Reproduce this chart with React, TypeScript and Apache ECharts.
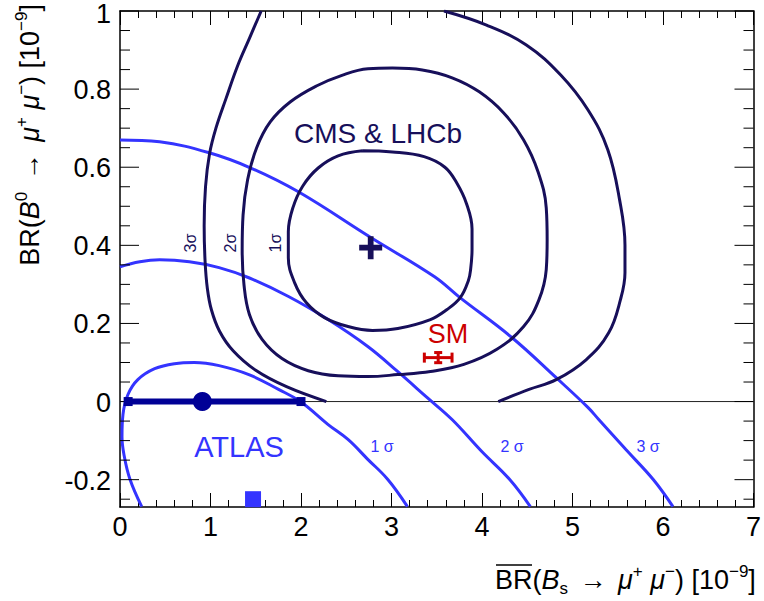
import React, { useEffect, useRef } from 'react';
import * as echarts from 'echarts';

// ---------- data ----------
const xTickValues = [0, 1, 2, 3, 4, 5, 6, 7];
const yMajorTicks = [-0.2, 0, 0.2, 0.4, 0.6, 0.8, 1];
const yTickLabels = ['-0.2', '0', '0.2', '0.4', '0.6', '0.8', '1'];
const yMinorTicks = [-0.25, -0.15, -0.1, -0.05, 0.05, 0.1, 0.15, 0.25, 0.3, 0.35, 0.45, 0.5, 0.55, 0.65, 0.7, 0.75, 0.85, 0.9, 0.95];

// CMS & LHCb combined contours [BR(Bs), BR(B0)]
const cms1Sigma = [
  [2.68, 0.642], [3.01, 0.639], [3.36, 0.627], [3.59, 0.6], [3.72, 0.56], [3.83, 0.506], [3.89, 0.442],
  [3.89, 0.389], [3.875, 0.34], [3.85, 0.31], [3.76, 0.266], [3.61, 0.235], [3.43, 0.21], [3.07, 0.187], [2.79, 0.182],
  [2.52, 0.192], [2.26, 0.215], [2.06, 0.253], [1.93, 0.304], [1.86, 0.368], [1.86, 0.435], [1.91, 0.496],
  [2.02, 0.552], [2.19, 0.598], [2.41, 0.629], [2.68, 0.642],
];
const cms2Sigma = [
  [3.01, 0.854], [3.34, 0.849], [3.67, 0.829], [3.97, 0.793], [4.24, 0.739], [4.46, 0.67], [4.62, 0.588],
  [4.71, 0.496], [4.72, 0.414], [4.71, 0.338], [4.63, 0.261], [4.46, 0.192], [4.16, 0.133], [3.8, 0.095],
  [3.43, 0.077], [3.07, 0.069], [2.74, 0.064], [2.41, 0.066], [2.08, 0.079], [1.79, 0.11], [1.57, 0.159],
  [1.43, 0.223], [1.37, 0.299], [1.35, 0.389], [1.36, 0.478], [1.41, 0.568], [1.51, 0.65], [1.66, 0.716],
  [1.88, 0.767], [2.17, 0.808], [2.46, 0.836], [2.74, 0.852], [3.01, 0.854],
];
const cms3SigmaLeft = [
  [1.56, 1.0], [1.43, 0.93], [1.3, 0.86], [1.17, 0.775], [1.06, 0.7], [0.99, 0.635], [0.945, 0.55],
  [0.93, 0.45], [0.94, 0.36], [0.965, 0.29], [1.01, 0.235], [1.1, 0.18], [1.25, 0.13], [1.5, 0.08], [1.84, 0.038], [2.28, 0],
];
const cms3SigmaRight = [
  [3.58, 1.0], [4.05, 0.964], [4.49, 0.913], [4.87, 0.836], [5.17, 0.747], [5.39, 0.645], [5.52, 0.517],
  [5.58, 0.4], [5.58, 0.33], [5.53, 0.261], [5.4, 0.176], [5.15, 0.107], [4.82, 0.056], [4.52, 0.031], [4.18, 0],
];

// ATLAS contours
const atlas1Sigma = [
  [0.24, -0.269], [0.11, -0.199], [0.044, -0.136], [0.022, -0.09], [0.033, -0.033], [0.088, 0.018],
  [0.197, 0.056], [0.383, 0.084], [0.602, 0.097], [0.821, 0.1], [1.095, 0.092], [1.424, 0.069], [1.752, 0.031],
  [1.993, 0], [2.3, -0.059], [2.519, -0.097], [2.738, -0.148], [2.957, -0.199], [3.176, -0.269],
];
const atlas2Sigma = [
  [0, 0.345], [0.219, 0.358], [0.438, 0.363], [0.767, 0.358], [1.095, 0.343], [1.424, 0.317], [1.862, 0.269],
  [2.3, 0.21], [2.738, 0.141], [3.067, 0.077], [3.395, 0.01], [3.669, -0.046], [3.998, -0.128], [4.304, -0.199], [4.534, -0.269],
];
const atlas3Sigma = [
  [0, 0.67], [0.438, 0.665], [0.986, 0.637], [1.446, 0.598], [1.971, 0.537], [2.771, 0.42], [3.472, 0.32],
  [3.757, 0.266], [4.33, 0.164], [4.82, 0.061], [5.17, -0.015], [5.29, -0.046], [5.59, -0.123], [5.89, -0.199], [6.11, -0.269],
];

// measurements
const cmsBest = [[2.77, 0.394]];
const atlasBest = [[0.91, 0]];
const atlasErrorBar = [[0.09, 0], [2.0, 0]];
const atlasSquare = [[1.47, -0.25]];
const smPoint = [[3.516, 0.1125, 0.153, 0.013]]; // x, y, xErr, yErr

const NAVY = '#170f5a';
const BLUE = '#3434ff';
const DARKBLUE = '#000096';
const RED = '#cc0000';
const FONT = '"Liberation Sans", Arial, Helvetica, sans-serif';

export default function App() {
  const ref = useRef<HTMLDivElement>(null);
  useEffect(() => {
    if (!ref.current) return;
    const chart = echarts.init(ref.current, undefined, { renderer: 'svg' });

    const contour = (data: number[][], color: string, z = 3) => ({
      type: 'line',
      data,
      showSymbol: false,
      symbol: 'none',
      smooth: 0.4,
      lineStyle: { color, width: 3 },
      silent: true,
      z,
    });

    const xAxisBase = {
      type: 'value', min: 0, max: 7, interval: 1,
      axisLine: { show: true, onZero: false, lineStyle: { color: '#000', width: 1.5 } },
      axisTick: { show: true, inside: true, length: 14, lineStyle: { color: '#000', width: 1 } },
      minorTick: { show: true, splitNumber: 5, length: 7, lineStyle: { color: '#000', width: 1 } },
      splitLine: { show: false },
    };
    const yAxisBase = {
      type: 'value', min: -0.27, max: 1,
      axisLine: { show: true, onZero: false, lineStyle: { color: '#000', width: 1.5 } },
      axisTick: { show: false }, axisLabel: { show: false }, splitLine: { show: false },
    };

    const titleRich = {
      n: { fontSize: 27, fontFamily: FONT, lineHeight: 34, fill: '#000' },
      i: { fontSize: 27, fontFamily: FONT, fontStyle: 'italic', lineHeight: 34, fill: '#000' },
      arr: { fontSize: 27, fontFamily: FONT, lineHeight: 34, fill: '#000', padding: [0, 4, 0, 4] },
      sup: { fontSize: 17, fontFamily: FONT, lineHeight: 20, verticalAlign: 'top', fill: '#000' },
      sub: { fontSize: 17, fontFamily: FONT, lineHeight: 17, verticalAlign: 'bottom', fill: '#000' },
    };

    const option: any = {
      animation: false,
      grid: { left: 120, right: 5, top: 11, bottom: 94 },
      xAxis: [
        {
          ...xAxisBase, position: 'bottom',
          axisLabel: {
            fontSize: 27, color: '#000', fontFamily: FONT, margin: 6,
            formatter: (v: number) => (xTickValues.includes(v) ? String(v) : ''),
          },
        },
        { ...xAxisBase, position: 'top', axisLabel: { show: false } },
      ],
      yAxis: [
        { ...yAxisBase, position: 'left' },
        { ...yAxisBase, position: 'right' },
      ],
      series: [
        // y-axis major ticks (left and right)
        {
          type: 'custom', silent: true, z: 5,
          data: yMajorTicks.map((v) => [0, v]),
          renderItem: (_p: any, api: any) => {
            const v = api.value(1);
            const l = api.coord([0, v]);
            const r = api.coord([7, v]);
            return {
              type: 'group', children: [
                { type: 'line', shape: { x1: l[0], y1: l[1], x2: l[0] + 19, y2: l[1] }, style: { stroke: '#000', lineWidth: 1 } },
                { type: 'line', shape: { x1: r[0] - 19, y1: r[1], x2: r[0], y2: r[1] }, style: { stroke: '#000', lineWidth: 1 } },
              ],
            };
          },
        },
        // y-axis minor ticks
        {
          type: 'custom', silent: true, z: 5,
          data: yMinorTicks.map((v) => [0, v]),
          renderItem: (_p: any, api: any) => {
            const v = api.value(1);
            const l = api.coord([0, v]);
            const r = api.coord([7, v]);
            return {
              type: 'group', children: [
                { type: 'line', shape: { x1: l[0], y1: l[1], x2: l[0] + 10, y2: l[1] }, style: { stroke: '#000', lineWidth: 1 } },
                { type: 'line', shape: { x1: r[0] - 10, y1: r[1], x2: r[0], y2: r[1] }, style: { stroke: '#000', lineWidth: 1 } },
              ],
            };
          },
        },
        // y-axis tick labels
        {
          type: 'custom', silent: true, clip: false, z: 5,
          data: yMajorTicks.map((v) => [0, v]),
          renderItem: (p: any, api: any) => {
            const v = api.value(1);
            const l = api.coord([0, v]);
            return {
              type: 'text', x: l[0] - 9, y: Math.max(l[1] + 1, 14),
              style: { text: yTickLabels[p.dataIndex], align: 'right', verticalAlign: 'middle', fill: '#000', font: `27px ${FONT}` },
            };
          },
        },
        // y = 0 line
        {
          type: 'line', data: [[0, 0], [7, 0]], showSymbol: false, symbol: 'none', silent: true,
          lineStyle: { color: '#222', width: 1 }, z: 2,
        },
        contour(atlas1Sigma, BLUE),
        contour(atlas2Sigma, BLUE),
        contour(atlas3Sigma, BLUE),
        contour(cms1Sigma, NAVY, 4),
        contour(cms2Sigma, NAVY, 4),
        contour(cms3SigmaLeft, NAVY, 4),
        contour(cms3SigmaRight, NAVY, 4),
        // ATLAS error bar
        {
          type: 'line', data: atlasErrorBar, symbol: 'rect', symbolSize: 9, showSymbol: true, silent: true,
          lineStyle: { color: DARKBLUE, width: 6 }, itemStyle: { color: DARKBLUE, opacity: 1 }, z: 6,
        },
        {
          type: 'scatter', data: atlasBest, symbol: 'circle', symbolSize: 19, silent: true,
          itemStyle: { color: DARKBLUE, opacity: 1 }, z: 7,
        },
        {
          type: 'scatter', data: atlasSquare, symbol: 'rect', symbolSize: 16, silent: true,
          itemStyle: { color: BLUE, opacity: 1 }, z: 7,
        },
        // CMS & LHCb best fit cross
        {
          type: 'scatter', data: cmsBest, silent: true, z: 7,
          symbol: 'path://M3,0 H5 V3 H8 V5 H5 V8 H3 V5 H0 V3 H3 Z', symbolSize: 23,
          itemStyle: { color: NAVY, opacity: 1 },
        },
        // SM prediction with error bars
        {
          type: 'custom', silent: true, z: 7,
          data: smPoint,
          renderItem: (_p: any, api: any) => {
            const x = api.value(0), y = api.value(1), ex = api.value(2), ey = api.value(3);
            const c = api.coord([x, y]);
            const l = api.coord([x - ex, y]);
            const r = api.coord([x + ex, y]);
            const t = api.coord([x, y + ey]);
            const b = api.coord([x, y - ey]);
            const st = { stroke: RED, lineWidth: 3 };
            return {
              type: 'group', children: [
                { type: 'line', shape: { x1: l[0], y1: c[1], x2: r[0], y2: c[1] }, style: st },
                { type: 'line', shape: { x1: l[0], y1: c[1] - 5, x2: l[0], y2: c[1] + 5 }, style: st },
                { type: 'line', shape: { x1: r[0], y1: c[1] - 5, x2: r[0], y2: c[1] + 5 }, style: st },
                { type: 'line', shape: { x1: c[0], y1: t[1], x2: c[0], y2: b[1] }, style: st },
                { type: 'line', shape: { x1: c[0] - 4, y1: t[1], x2: c[0] + 4, y2: t[1] }, style: st },
                { type: 'line', shape: { x1: c[0] - 4, y1: b[1], x2: c[0] + 4, y2: b[1] }, style: st },
              ],
            };
          },
        },
      ],
      graphic: [
        { type: 'text', x: 378, y: 133, style: { text: 'CMS & LHCb', font: `28px ${FONT}`, fill: NAVY, align: 'center', verticalAlign: 'middle' } },
        { type: 'text', x: 448, y: 334, style: { text: 'SM', font: `27px ${FONT}`, fill: RED, align: 'center', verticalAlign: 'middle' } },
        { type: 'text', x: 239, y: 447, style: { text: 'ATLAS', font: `29px ${FONT}`, fill: BLUE, align: 'center', verticalAlign: 'middle' } },
        { type: 'text', x: 382, y: 446, style: { text: '1 σ', font: `16px ${FONT}`, fill: BLUE, align: 'center', verticalAlign: 'middle' } },
        { type: 'text', x: 512, y: 446, style: { text: '2 σ', font: `16px ${FONT}`, fill: BLUE, align: 'center', verticalAlign: 'middle' } },
        { type: 'text', x: 648, y: 446, style: { text: '3 σ', font: `16px ${FONT}`, fill: BLUE, align: 'center', verticalAlign: 'middle' } },
        { type: 'text', x: 190, y: 243, rotation: Math.PI / 2, style: { text: '3σ', font: `16px ${FONT}`, fill: NAVY, align: 'center', verticalAlign: 'middle' } },
        { type: 'text', x: 230, y: 243, rotation: Math.PI / 2, style: { text: '2σ', font: `16px ${FONT}`, fill: NAVY, align: 'center', verticalAlign: 'middle' } },
        { type: 'text', x: 275, y: 243, rotation: Math.PI / 2, style: { text: '1σ', font: `16px ${FONT}`, fill: NAVY, align: 'center', verticalAlign: 'middle' } },
        // x-axis title
        {
          type: 'text', x: 495, y: 580,
          style: {
            text: '{n|BR(}{i|B}{sub|s}{n| }{arr|→}{n| }{i|μ}{sup|+}{i| μ}{sup|−}{n|) [10}{sup|−9}{n|]}',
            align: 'left', verticalAlign: 'middle', fill: '#000', rich: titleRich,
          },
        },
        { type: 'line', shape: { x1: 496, y1: 565, x2: 532, y2: 565 }, style: { stroke: '#000', lineWidth: 1.6 } },
        // y-axis title
        {
          type: 'text', x: 30, y: 4, rotation: Math.PI / 2,
          style: {
            text: '{n|BR(}{i|B}{sup|0}{n| }{arr|→}{n| }{i|μ}{sup|+}{i| μ}{sup|−}{n|) [10}{sup|−9}{n|]}',
            align: 'right', verticalAlign: 'middle', fill: '#000', rich: titleRich,
          },
        },
      ],
    };
    chart.setOption(option);
    return () => chart.dispose();
  }, []);
  return <div ref={ref} style={{ width: 764, height: 601, position: 'absolute', left: 0, top: 0 }} />;
}
